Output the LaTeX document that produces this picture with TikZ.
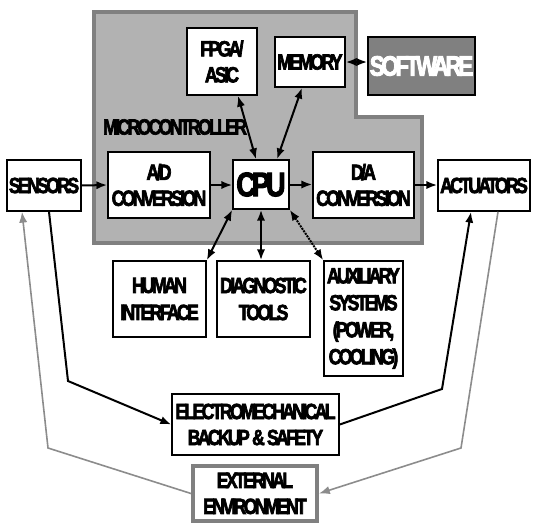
\documentclass[tikz,border=0pt]{standalone}
\usepackage{fontspec}
\usepackage{tikz}
\usetikzlibrary{arrows.meta}
\newfontfamily\boxfont{Liberation Sans Bold}[FakeStretch=0.8,FakeBold=3,LetterSpace=-12]
\definecolor{mcufill}{gray}{0.70}
\definecolor{mcuedge}{gray}{0.50}
\definecolor{envline}{gray}{0.55}

\begin{document}
\begin{tikzpicture}[x=1pt,y=-1pt,>={Latex[length=3.8mm,width=2.9mm]},
  font=\boxfont\fontsize{22}{26}\selectfont]
  \tikzset{
    blk/.style={draw,line width=1.6pt,fill=white,align=center,inner sep=0pt},
    link/.style={line width=2pt},
    envlink/.style={draw=envline,line width=1.6pt,-{Latex[length=3.8mm,width=2.9mm]}},
  }
  \useasboundingbox (0,0) rectangle (533,525);
  % microcontroller
  \draw[mcuedge,line width=4pt,fill=mcufill]
    (94,12) -- (356,12) -- (356,117) -- (422,117) -- (422,243) -- (94,243) -- cycle;
  \node[anchor=west,inner sep=0pt] (mcu) at (103,127) {MICROCONTROLLER};
  \node[blk,minimum width=70,minimum height=67] (fpga) at (222,61.5) {FPGA/\\ASIC};
  \node[blk,minimum width=70,minimum height=50] (memory) at (310,62) {MEMORY};
  \node[blk,fill=mcuedge,text=white,minimum width=107,minimum height=58,
    font=\boxfont\fontsize{28}{30}\selectfont] (software) at (421.5,66) {SOFTWARE};
  \node[blk,minimum width=102,minimum height=66] (adconv) at (159,185) {A/D\\CONVERSION};
  \node[blk,minimum width=56,minimum height=49,
    font=\boxfont\fontsize{34}{36}\selectfont] (cpu) at (261,184.5) {CPU};
  \node[blk,minimum width=101,minimum height=66] (daconv) at (363.5,185) {D/A\\CONVERSION};
  \node[blk,minimum width=74,minimum height=51] (sensors) at (44,185.5) {SENSORS};
  \node[blk,minimum width=92,minimum height=51] (actuators) at (484,185.5) {ACTUATORS};
  \node[blk,minimum width=93,minimum height=76,font=\boxfont\fontsize{22}{27}\selectfont]
    (human) at (159.5,299) {HUMAN\\INTERFACE};
  \node[blk,minimum width=93,minimum height=76,font=\boxfont\fontsize{22}{27}\selectfont]
    (diag) at (263.5,299) {DIAGNOSTIC\\TOOLS};
  \node[blk,minimum width=79,minimum height=115,font=\boxfont\fontsize{22}{27}\selectfont]
    (aux) at (363.5,318.5) {AUXILIARY\\SYSTEMS\\(POWER,\\COOLING)};
  \node[blk,minimum width=167,minimum height=61] (backup) at (255.5,424.5)
    {ELECTROMECHANICAL\\BACKUP \& SAFETY};
  \node[blk,draw=mcuedge,line width=4pt,minimum width=124,minimum height=55]
    (extenv) at (255,493.5) {EXTERNAL\\ENVIRONMENT};
  % signal chain
  \draw[link,->] (sensors.east) -- (adconv.west);
  \draw[link,->] (adconv.east) -- (cpu.west |- adconv.east);
  \draw[link,->] (cpu.east) -- (daconv.west |- cpu.east);
  \draw[link,->] (daconv.east) -- (actuators.west |- daconv.east);
  \draw[link,<->] ([xshift=16]fpga.south) -- ([xshift=-5]cpu.north);
  \draw[link,<->] ([xshift=-8]memory.south) -- ([xshift=16]cpu.north);
  \draw[link,<->] (memory.east) -- (memory.east -| software.west);
  \draw[link,<->] (cpu.south west) -- (human.north east);
  \draw[link,<->] (cpu.south) -- (cpu.south |- diag.north);
  \draw[link,<->,densely dotted] (cpu.south east) -- (aux.north west);
  % backup paths
  \coordinate (sbend) at (68,381);
  \coordinate (abend) at (442,389);
  \draw[link,->] ([xshift=5]sensors.south) -- (sbend) -- (backup.west);
  \draw[link,->] (backup.east) -- (abend) -- ([xshift=-13]actuators.south);
  % environment
  \coordinate (ebendl) at (48,448);
  \coordinate (ebendr) at (461,448);
  \draw[envlink] (extenv.west) -- (ebendl) -- ([xshift=-22]sensors.south);
  \draw[envlink] ([xshift=14]actuators.south) -- (ebendr) -- (extenv.east);
\end{tikzpicture}
\end{document}
